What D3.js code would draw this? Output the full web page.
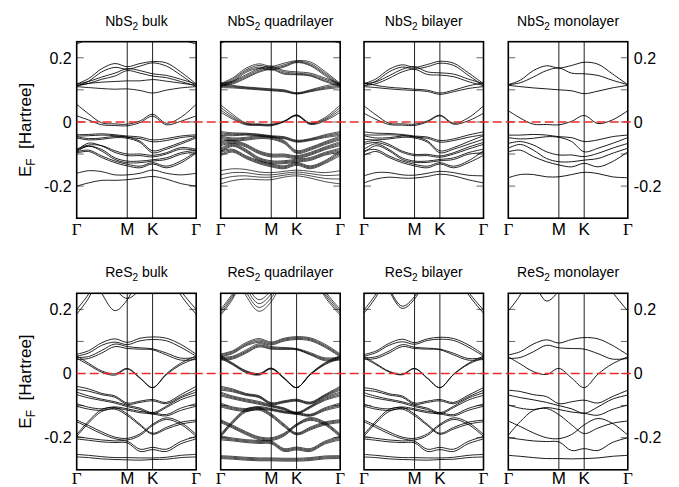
<!DOCTYPE html>
<html>
<head>
<meta charset="utf-8">
<script src="https://cdn.jsdelivr.net/npm/d3@7"></script>
<style>
  body { margin: 0; background: #fff; }
  svg { display: block; }
</style>
</head>
<body>
<div id="chart"></div>
<script>
// k-path sample points (fraction of the Γ-M-K-Γ path), shared by every band
const kPoints = [0, 0.1, 0.21, 0.32, 0.423, 0.53, 0.635, 0.75, 0.87, 1];
const kLabels = ["Γ", "M", "K", "Γ"];
const kLabelPos = [0, 0.423, 0.635, 1];
const yTickVals = [-0.2, -0.1, 0, 0.1, 0.2];
const yTickLabels = ["-0.2", "0", "0.2"];
const materials = ["NbS", "ReS"];
const layerNames = ["bulk", "quadrilayer", "bilayer", "monolayer"];

// band energies in milli-Hartree, one row per band
const nbs2Bulk = [
  [243,262,320,360,380,380,360,320,262,243],
  [118,135,166,182,172,182,188,184,156,118],
  [112,127,156,170,164,174,184,174,146,112],
  [118,126,140,152,166,160,150,145,133,118],
  [112,120,133,143,160,152,143,138,126,112],
  [114,120,124,126,128,128,132,127,121,114],
  [110,107,104,102,103,98,90,99,106,110],
  [55,25,-3,-6,-7,3,24,-4,14,55],
  [19,6,-9,-11,-12,-2,18,-9,2,19],
  [-40,-39,-37,-40,-44,-47,-56,-52,-44,-40],
  [-44,-43,-41,-43,-48,-52,-62,-58,-49,-44],
  [-46,-52,-50,-45,-47,-60,-90,-80,-64,-46],
  [-50,-56,-54,-49,-51,-64,-96,-85,-69,-50],
  [-85,-72,-74,-90,-100,-100,-104,-96,-80,-85],
  [-89,-66,-75,-95,-105,-105,-109,-100,-85,-89],
  [-88,-76,-86,-112,-122,-122,-118,-112,-96,-88],
  [-93,-75,-91,-117,-127,-127,-122,-117,-101,-93],
  [-93,-88,-106,-122,-132,-138,-127,-138,-122,-93],
  [-97,-92,-111,-127,-137,-143,-131,-143,-128,-97],
  [-160,-152,-155,-165,-165,-160,-150,-160,-165,-160],
  [-200,-190,-182,-182,-180,-175,-170,-178,-192,-200]
];

const nbs2Quad = [
  [245,265,320,360,380,380,360,320,265,245],
  [120,137,167,181,173,183,191,187,158,120],
  [117,133,162,176,169,178,189,182,153,117],
  [114,129,158,171,165,174,187,178,149,114],
  [111,125,154,167,162,171,185,175,145,111],
  [120,127,147,166,174,160,156,152,137,120],
  [117,124,143,162,170,156,152,148,133,117],
  [114,121,139,158,166,152,149,145,129,114],
  [111,118,136,155,163,149,147,143,126,111],
  [120,114,109,106,103,100,91,100,112,120],
  [115,111,107,104,101,98,89,98,108,115],
  [111,109,105,102,99,96,88,96,105,111],
  [107,106,103,100,97,94,87,94,102,107],
  [53,24,-3,-6,-7,3,22,-3,13,53],
  [45,18,-5,-8,-9,2,21,-5,9,45],
  [37,13,-7,-9,-10,1,20,-6,6,37],
  [30,9,-9,-11,-12,0,19,-8,3,30],
  [-30,-34,-35,-38,-43,-46,-57,-52,-40,-30],
  [-34,-37,-37,-40,-45,-48,-59,-54,-43,-34],
  [-38,-40,-39,-42,-47,-50,-61,-56,-46,-38],
  [-42,-43,-41,-44,-49,-52,-63,-58,-49,-42],
  [-44,-50,-48,-43,-45,-58,-89,-79,-62,-44],
  [-48,-53,-51,-46,-48,-61,-92,-82,-65,-48],
  [-52,-56,-54,-49,-51,-64,-95,-85,-68,-52],
  [-56,-59,-57,-52,-54,-67,-98,-88,-71,-56],
  [-62,-57,-69,-90,-100,-100,-105,-95,-78,-62],
  [-66,-60,-72,-93,-103,-103,-108,-98,-81,-66],
  [-70,-63,-75,-96,-106,-106,-111,-101,-84,-70],
  [-74,-66,-78,-99,-109,-109,-114,-104,-87,-74],
  [-82,-67,-85,-111,-121,-121,-116,-111,-95,-82],
  [-86,-70,-88,-114,-124,-124,-119,-114,-98,-86],
  [-90,-73,-91,-117,-127,-127,-122,-117,-101,-90],
  [-94,-76,-94,-120,-130,-130,-125,-120,-104,-94],
  [-90,-85,-105,-121,-131,-137,-126,-137,-121,-90],
  [-95,-88,-108,-124,-134,-140,-129,-140,-124,-95],
  [-100,-91,-111,-127,-137,-143,-132,-143,-127,-100],
  [-105,-94,-114,-130,-140,-146,-135,-146,-130,-105],
  [-152,-146,-148,-156,-158,-154,-150,-154,-158,-152],
  [-165,-158,-158,-164,-165,-160,-156,-161,-167,-165],
  [-178,-170,-168,-172,-172,-166,-162,-168,-176,-178],
  [-193,-183,-178,-180,-180,-172,-168,-175,-186,-193]
];

const nbs2Bi = [
  [119,134,164,178,170,179,189,183,154,119],
  [113,127,156,171,165,172,183,176,146,113],
  [119,125,144,164,172,156,153,149,134,119],
  [113,119,136,156,164,148,146,141,126,113],
  [122,114,108,105,102,99,90,99,112,122],
  [110,107,103,100,98,95,86,94,104,110],
  [50,22,-4,-6,-7,3,21,-4,12,50],
  [27,8,-8,-10,-11,0,19,-7,3,27],
  [-31,-35,-36,-39,-44,-47,-58,-53,-41,-31],
  [-40,-41,-40,-42,-47,-51,-63,-58,-48,-40],
  [-43,-50,-49,-44,-46,-59,-90,-80,-62,-43],
  [-54,-56,-53,-48,-50,-63,-96,-85,-70,-54],
  [-64,-58,-70,-91,-101,-101,-106,-96,-79,-64],
  [-70,-64,-75,-95,-105,-105,-110,-100,-85,-70],
  [-85,-68,-86,-112,-122,-122,-117,-112,-96,-85],
  [-96,-74,-90,-117,-126,-126,-121,-117,-101,-96],
  [-90,-86,-106,-122,-132,-138,-127,-138,-122,-90],
  [-104,-92,-111,-127,-137,-143,-131,-143,-128,-104],
  [-168,-158,-158,-165,-166,-160,-154,-158,-166,-168],
  [-190,-178,-172,-175,-175,-170,-163,-168,-180,-190]
];

const nbs2Mono = [
  [116,130,160,175,168,176,186,180,150,116],
  [116,122,140,160,168,152,150,145,130,116],
  [114,110,106,103,100,97,88,96,106,114],
  [35,12,-7,-8,-9,2,20,-5,6,35],
  [-41,-41,-39,-41,-46,-49,-61,-56,-46,-41],
  [-49,-53,-51,-46,-48,-61,-93,-82,-67,-49],
  [-67,-61,-72,-93,-103,-103,-108,-98,-82,-67],
  [-82,-70,-88,-114,-124,-124,-119,-114,-98,-82],
  [-93,-88,-108,-124,-134,-140,-129,-140,-124,-93],
  [-174,-164,-164,-171,-171,-164,-157,-161,-171,-174]
];

const res2Bulk = [
  [200,248,330,380,400,400,380,330,258,200],
  [185,235,320,380,400,400,380,330,245,185],
  [400,340,250,196,230,320,400,400,400,400],
  [400,400,300,262,234,262,320,400,400,400],
  [60,71,96,108,97,110,114,110,91,60],
  [54,64,88,98,90,102,106,102,82,54],
  [50,53,72,92,84,80,77,64,48,50],
  [44,47,64,84,78,76,74,58,42,44],
  [55,32,8,-1,16,-13,-44,-1,32,55],
  [48,27,4,-5,14,-15,-44,-4,27,48],
  [-40,-48,-62,-70,-92,-86,-81,-90,-66,-40],
  [-50,-55,-66,-74,-96,-90,-85,-94,-72,-50],
  [-58,-70,-80,-88,-99,-108,-122,-102,-76,-58],
  [-66,-76,-84,-92,-103,-112,-126,-106,-82,-66],
  [-94,-105,-110,-104,-110,-118,-122,-128,-108,-94],
  [-102,-111,-115,-108,-114,-122,-126,-132,-115,-102],
  [-190,-148,-112,-106,-126,-158,-186,-168,-152,-145],
  [-196,-154,-118,-111,-131,-162,-189,-173,-158,-150],
  [-145,-162,-182,-198,-202,-188,-158,-138,-152,-190],
  [-150,-168,-188,-203,-207,-193,-162,-143,-158,-196],
  [-196,-202,-207,-210,-211,-236,-230,-236,-212,-196],
  [-204,-208,-213,-215,-216,-243,-237,-243,-219,-204],
  [-252,-255,-259,-262,-262,-263,-263,-261,-255,-252],
  [-260,-262,-266,-268,-269,-270,-268,-267,-262,-260]
];

const res2Quad = [
  [200,250,330,380,400,400,380,330,258,200],
  [194,244,326,380,400,400,380,330,252,194],
  [188,238,322,380,400,400,380,330,246,188],
  [182,232,318,380,400,400,380,330,240,182],
  [400,360,280,230,260,330,400,400,400,400],
  [400,350,268,218,248,322,400,400,400,400],
  [400,340,256,206,236,314,400,400,400,400],
  [400,330,244,194,224,306,400,400,400,400],
  [61,71,96,109,98,110,115,111,92,61],
  [58,68,92,105,95,107,112,108,88,58],
  [55,65,89,101,92,104,109,105,85,55],
  [52,62,86,97,89,101,106,102,82,52],
  [51,54,73,93,84,81,78,65,49,51],
  [48,51,69,89,81,79,76,62,46,48],
  [45,48,66,86,78,77,75,60,43,45],
  [42,45,63,83,76,75,74,58,40,42],
  [56,33,9,0,17,-13,-44,-1,33,56],
  [53,31,7,-2,16,-14,-44,-2,31,53],
  [50,29,5,-3,15,-15,-44,-3,29,50],
  [47,27,3,-5,14,-16,-44,-4,27,47],
  [-40,-48,-62,-69,-91,-85,-80,-89,-66,-40],
  [-44,-51,-64,-71,-93,-87,-82,-91,-68,-44],
  [-48,-54,-66,-73,-95,-89,-84,-93,-70,-48],
  [-52,-57,-68,-75,-97,-91,-86,-95,-72,-52],
  [-58,-70,-79,-87,-98,-107,-121,-101,-75,-58],
  [-62,-73,-82,-90,-100,-109,-123,-103,-78,-62],
  [-66,-76,-85,-93,-102,-111,-125,-105,-81,-66],
  [-70,-79,-88,-96,-104,-113,-127,-107,-84,-70],
  [-92,-104,-109,-103,-109,-117,-121,-127,-107,-92],
  [-96,-107,-112,-106,-111,-119,-123,-129,-110,-96],
  [-100,-110,-115,-109,-113,-121,-125,-131,-113,-100],
  [-104,-113,-118,-112,-115,-123,-127,-133,-116,-104],
  [-189,-147,-111,-105,-125,-157,-185,-167,-151,-144],
  [-192,-150,-114,-108,-128,-160,-187,-170,-154,-147],
  [-195,-153,-117,-111,-131,-163,-189,-173,-157,-150],
  [-198,-156,-120,-114,-134,-166,-191,-176,-160,-153],
  [-144,-161,-181,-197,-200,-186,-157,-137,-151,-189],
  [-147,-164,-184,-200,-203,-189,-159,-140,-154,-192],
  [-150,-167,-187,-203,-206,-192,-161,-143,-157,-195],
  [-153,-170,-190,-206,-209,-195,-163,-146,-160,-198],
  [-195,-201,-206,-209,-210,-234,-229,-234,-211,-195],
  [-199,-204,-209,-212,-213,-237,-232,-237,-214,-199],
  [-203,-207,-212,-215,-216,-240,-235,-240,-217,-203],
  [-207,-210,-215,-218,-219,-243,-238,-243,-220,-207],
  [-256,-258,-261,-263,-263,-264,-264,-262,-257,-256],
  [-259,-261,-264,-266,-266,-267,-267,-265,-260,-259],
  [-262,-264,-267,-269,-269,-270,-270,-268,-263,-262],
  [-265,-267,-270,-272,-272,-273,-273,-271,-266,-265]
];

const res2Bi = [
  [198,248,330,380,400,400,380,330,256,198],
  [188,238,322,380,400,400,380,330,248,188],
  [400,350,265,210,240,320,400,400,400,400],
  [400,345,258,203,232,315,400,400,400,400],
  [59,70,94,107,96,108,113,109,90,59],
  [54,65,88,99,91,103,107,103,83,54],
  [49,52,70,90,82,79,76,63,47,49],
  [44,47,64,84,78,76,74,58,42,44],
  [54,31,7,-2,16,-14,-44,-2,31,54],
  [49,28,5,-4,15,-15,-44,-3,28,49],
  [-44,-50,-63,-70,-92,-86,-81,-90,-68,-44],
  [-52,-56,-67,-74,-96,-90,-85,-94,-73,-52],
  [-60,-71,-80,-88,-99,-108,-122,-102,-77,-60],
  [-68,-77,-84,-92,-103,-112,-126,-106,-83,-68],
  [-95,-106,-110,-104,-110,-118,-122,-128,-109,-95],
  [-102,-111,-115,-108,-114,-122,-126,-132,-115,-102],
  [-190,-148,-112,-106,-126,-158,-186,-168,-152,-145],
  [-196,-154,-118,-111,-131,-162,-189,-173,-158,-150],
  [-145,-162,-182,-198,-202,-188,-158,-138,-152,-190],
  [-150,-168,-188,-203,-207,-193,-162,-143,-158,-196],
  [-196,-202,-207,-210,-211,-236,-230,-236,-212,-196],
  [-204,-208,-213,-215,-216,-243,-237,-243,-219,-204],
  [-252,-255,-259,-262,-262,-263,-263,-261,-255,-252],
  [-260,-262,-266,-268,-269,-270,-268,-267,-262,-260]
];

const res2Mono = [
  [195,245,330,380,400,400,380,330,255,195],
  [400,370,290,226,258,330,400,400,400,400],
  [58,68,92,105,95,106,112,108,88,58],
  [47,50,68,88,80,78,76,62,45,47],
  [52,30,6,-3,16,-14,-44,-2,30,52],
  [-52,-56,-66,-72,-94,-88,-83,-92,-72,-52],
  [-67,-75,-82,-90,-100,-110,-124,-104,-80,-67],
  [-98,-108,-112,-106,-112,-120,-124,-130,-112,-98],
  [-192,-150,-115,-109,-128,-160,-187,-170,-155,-148],
  [-148,-165,-185,-200,-203,-190,-160,-140,-155,-192],
  [-200,-205,-210,-212,-213,-240,-234,-240,-215,-200],
  [-255,-258,-262,-265,-265,-266,-265,-263,-258,-255]
];

const panelBands = [nbs2Bulk, nbs2Quad, nbs2Bi, nbs2Mono, res2Bulk, res2Quad, res2Bi, res2Mono];

const width = 679, height = 487;
const colX = [76.7, 220.7, 364, 508.3];
const rowY = [41.7, 293.3];
const labelDrop = [17, 14];
const bandStroke = [0.85, 0.7, 0.85, 0.9];
const panelW = 119.5, panelH = 176.5;
const sans = "'Liberation Sans', Arial, Helvetica, sans-serif";
const serif = "'Liberation Serif', 'Times New Roman', serif";

const svg = d3.select("#chart")
  .append("svg")
  .attr("width", width)
  .attr("height", height);

const x = d3.scaleLinear().domain([0, 1]).range([0, panelW]);
const y = d3.scaleLinear().domain([-0.3, 0.25]).range([panelH, 0]);

const line = d3.line()
  .x((d, i) => x(kPoints[i]))
  .y(d => y(d / 1000))
  .curve(d3.curveCatmullRom.alpha(0.5));

panelBands.forEach(function (bands, p) {
  const row = Math.floor(p / 4), col = p % 4;
  const g = svg.append("g")
    .attr("transform", `translate(${colX[col]},${rowY[row]})`);

  // clip so bands leaving the energy window are cut at the frame
  g.append("clipPath")
    .attr("id", "clip" + p)
    .append("rect")
    .attr("width", panelW)
    .attr("height", panelH);

  // inner tick marks on both sides
  yTickVals.forEach(function (v) {
    g.append("line")
      .attr("x1", 0).attr("x2", 7)
      .attr("y1", y(v)).attr("y2", y(v))
      .attr("stroke", "#666").attr("stroke-width", 1);
    g.append("line")
      .attr("x1", panelW - 7).attr("x2", panelW)
      .attr("y1", y(v)).attr("y2", y(v))
      .attr("stroke", "#666").attr("stroke-width", 1);
  });

  // high symmetry lines
  [kLabelPos[1], kLabelPos[2]].forEach(function (k) {
    g.append("line")
      .attr("x1", x(k)).attr("x2", x(k))
      .attr("y1", 0).attr("y2", panelH)
      .attr("stroke", "#222").attr("stroke-width", 1);
  });

  g.append("g")
    .attr("clip-path", `url(#clip${p})`)
    .selectAll("path")
    .data(bands)
    .join("path")
    .attr("d", line)
    .attr("fill", "none")
    .attr("stroke", "#000")
    .attr("stroke-width", bandStroke[col]);

  g.append("rect")
    .attr("width", panelW)
    .attr("height", panelH)
    .attr("fill", "none")
    .attr("stroke", "#000")
    .attr("stroke-width", 1.6);

  // title with subscript
  const t = g.append("text")
    .attr("x", panelW / 2)
    .attr("y", -16)
    .attr("text-anchor", "middle")
    .style("font-family", sans)
    .style("font-size", "14px");
  t.append("tspan").text(materials[row]);
  t.append("tspan").text("2").attr("dy", 4).style("font-size", "10px");
  t.append("tspan").text(" " + layerNames[col]).attr("dy", -4);

  // k-point labels
  kLabels.forEach(function (lab, i) {
    g.append("text")
      .attr("x", x(kLabelPos[i]))
      .attr("y", panelH + labelDrop[row])
      .attr("text-anchor", "middle")
      .style("font-family", lab === "Γ" ? serif : sans)
      .style("font-size", "17px")
      .text(lab);
  });
});

// energy labels, left and right of each row
rowY.forEach(function (top, row) {
  const yl = v => top + y(v);
  [-0.2, 0, 0.2].forEach(function (v, i) {
    svg.append("text")
      .attr("x", colX[0] - 5)
      .attr("y", yl(v))
      .attr("dy", "0.36em")
      .attr("text-anchor", "end")
      .style("font-family", sans)
      .style("font-size", "16px")
      .text(yTickLabels[i]);
    svg.append("text")
      .attr("x", colX[3] + panelW + 6)
      .attr("y", yl(v))
      .attr("dy", "0.36em")
      .attr("text-anchor", "start")
      .style("font-family", sans)
      .style("font-size", "16px")
      .text(yTickLabels[i]);
  });

  const lab = svg.append("text")
    .attr("transform", `translate(31,${top + panelH / 2}) rotate(-90)`)
    .attr("text-anchor", "middle")
    .style("font-family", sans)
    .style("font-size", "17px");
  lab.append("tspan").text("E");
  lab.append("tspan").text("F").attr("dy", 4).style("font-size", "12px");
  lab.append("tspan").text("  [Hartree]").attr("dy", -4).style("white-space", "pre");

  // Fermi level
  svg.append("line")
    .attr("x1", colX[0])
    .attr("x2", colX[3] + panelW + 3)
    .attr("y1", yl(0))
    .attr("y2", yl(0))
    .attr("stroke", "#ee2b2b")
    .attr("stroke-width", 1.5)
    .attr("stroke-dasharray", "9,4");
});
</script>
</body>
</html>
